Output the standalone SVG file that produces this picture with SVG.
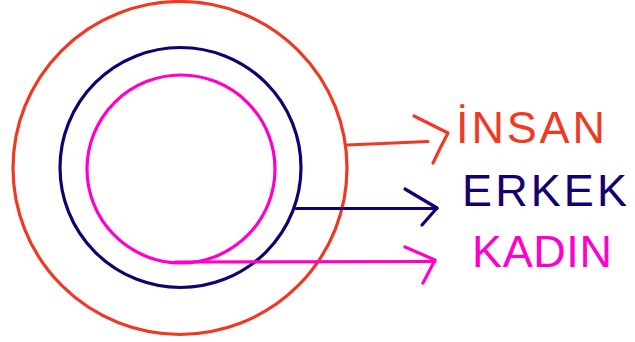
<svg xmlns="http://www.w3.org/2000/svg" width="635" height="342" viewBox="0 0 635 342">
<style>
.c{fill:none;stroke-width:3.2;stroke-linecap:round;stroke-linejoin:round}
.r{stroke:#EE3A24}.n{stroke:#16006F}.m{stroke:#FF00CC}
.t{font-family:"Liberation Sans",Arial,sans-serif;font-size:45px;letter-spacing:6px}
</style>
<rect width="635" height="342" fill="#fff"/>
<g id="insan-circle"><ellipse class="c r" cx="180" cy="168" rx="167" ry="166.5"/></g>
<g id="erkek-circle"><ellipse class="c n" cx="180.5" cy="167.5" rx="120.5" ry="120"/></g>
<g id="kadin-circle"><ellipse class="c m" cx="181" cy="169" rx="94" ry="94"/></g>
<g id="connectors">
<path class="c r" d="M347 145 L428 141.5"/>
<path class="c r" d="M414 116 L448 133 Q440 148 433 163"/>
<path class="c n" d="M296 208.5 L437 208.5"/>
<path class="c n" d="M405 189 L437 208 L422 225"/>
<path class="c m" d="M175 262 L435 261.5"/>
<path class="c m" d="M405 247 L435 260 L423 283"/>
</g>
<g id="insan-label"><text class="t" x="456" y="143" fill="#EE3A24" textLength="155">İNSAN</text></g>
<g id="erkek-label"><text class="t" x="462" y="206" fill="#16006F" textLength="171">ERKEK</text></g>
<g id="kadin-label"><text class="t" x="472" y="267" fill="#FF00CC" textLength="146">KADIN</text></g>
</svg>
